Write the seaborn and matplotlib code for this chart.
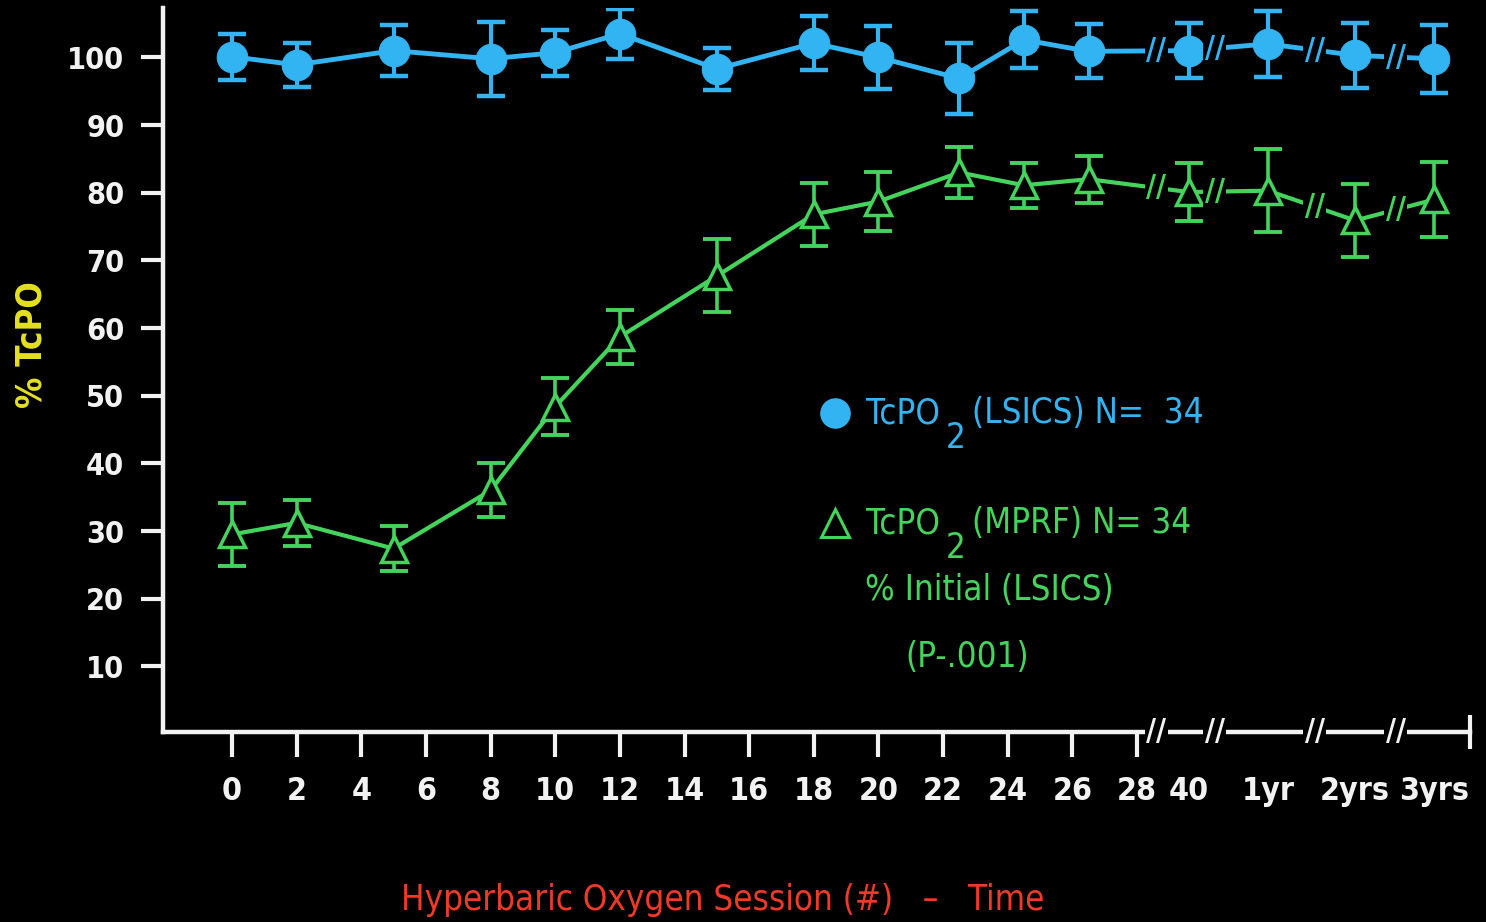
import numpy as np
import pandas as pd
import seaborn as sns
import matplotlib.pyplot as plt

# x positions of the sessions, the axis is broken after session 28
session_x = [0, 2, 5, 8, 10, 12, 15, 18, 20, 22.5, 24.5, 26.5]
late_x = [29.6, 32.05, 34.75, 37.2]
late_labels = ["40", "1yr", "2yrs", "3yrs"]
session_ticks = list(range(0, 30, 2))
break_x = [28.6, 30.4, 33.5, 36.0]

# TcPO2 (LSICS), % of initial
lsics_mean = [100.1, 98.9, 101.0, 99.8, 100.7, 103.5, 98.3, 102.1,
              100.0, 96.9, 102.6, 100.9, 101.0, 102.0, 100.3, 99.8]
lsics_err = [3.4, 3.2, 3.8, 5.5, 3.4, 3.7, 3.1, 4.0,
             4.7, 5.2, 4.2, 4.0, 4.1, 4.9, 4.8, 5.0]

# TcPO2 (MPRF), % of initial LSICS
mprf_mean = [29.5, 31.2, 27.4, 36.0, 48.4, 58.7, 67.7, 76.8,
             78.7, 83.0, 81.1, 82.0, 80.1, 80.3, 75.9, 79.0]
mprf_err = [4.6, 3.4, 3.3, 4.0, 4.2, 4.0, 5.4, 4.7,
            4.4, 3.8, 3.3, 3.5, 4.3, 6.1, 5.4, 5.6]

BLUE = "#33b4f2"
GREEN = "#44d45c"
WHITE = "#f2f2f2"

df = pd.DataFrame({
    "x": session_x + late_x,
    "lsics": lsics_mean,
    "lsics_err": lsics_err,
    "mprf": mprf_mean,
    "mprf_err": mprf_err,
})

sns.set_style("dark", {"axes.facecolor": "black", "figure.facecolor": "black",
                       "axes.edgecolor": WHITE, "axes.grid": False,
                       "xtick.bottom": True, "ytick.left": True})
plt.rcParams["font.family"] = ["DejaVu Sans"]
plt.rcParams["font.stretch"] = "condensed"


def px(x, y):
    # pixel position in the 1486x922 picture -> figure fraction
    return x / 1486, 1 - y / 922


fig = plt.figure(figsize=(14.86, 9.22), dpi=100)
ax = fig.add_axes([0.1097, 0.2061, 0.8795, 0.7852])

# error bars under the markers
ax.errorbar(df.x, df.lsics, yerr=df.lsics_err, fmt="none", ecolor=BLUE,
            elinewidth=3, capsize=10, capthick=3.2, zorder=3)
ax.errorbar(df.x, df.mprf, yerr=df.mprf_err, fmt="none", ecolor=GREEN,
            elinewidth=2.6, capsize=10, capthick=2.8, zorder=3)

sns.lineplot(data=df, x="x", y="lsics", ax=ax, color=BLUE, lw=3.5,
             marker="o", ms=22, mec=BLUE, mfc=BLUE, zorder=4)
sns.lineplot(data=df, x="x", y="mprf", ax=ax, color=GREEN, lw=3,
             marker="^", ms=19, mec=GREEN, mfc="black", mew=2.5, zorder=4)

# "//" breaks on the lines and on the axis
box = dict(boxstyle="square,pad=0.05", fc="black", ec="none")
for bx in break_x:
    for col, c in (("lsics", BLUE), ("mprf", GREEN)):
        by = np.interp(bx, df.x, df[col])
        ax.text(bx, by, "//", color=c, ha="center", va="center",
                fontsize=22, fontweight="bold", bbox=box, zorder=5)
    ax.text(bx, 0, "//", color=WHITE, ha="center", va="center",
            fontsize=22, fontweight="bold", bbox=box,
            transform=ax.get_xaxis_transform(), clip_on=False, zorder=6)

ax.set_xlim(-2.135, 38.3)
ax.set_ylim(0.3, 107.3)
ax.plot([ax.get_xlim()[1]], [0], marker="|", ms=24, mew=3, color=WHITE,
        transform=ax.get_xaxis_transform(), clip_on=False)

ax.set_xticks(session_ticks)
ax.set_xticks(late_x, late_labels, minor=True)
ax.set_yticks(range(10, 101, 10))
ax.tick_params(axis="x", which="major", bottom=True, length=18, width=3,
               pad=14, labelsize=23, colors=WHITE)
ax.tick_params(axis="x", which="minor", bottom=True, length=18, width=0,
               pad=14, labelsize=23, colors=WHITE)
ax.tick_params(axis="y", left=True, length=16, width=3, pad=12,
               labelsize=22, colors=WHITE)
for lab in ax.get_xticklabels(which="both") + ax.get_yticklabels():
    lab.set_fontweight("bold")

sns.despine(ax=ax)
for side in ("left", "bottom"):
    ax.spines[side].set_linewidth(3.2)
    ax.spines[side].set_color(WHITE)

ax.set_ylabel("% TcPO", color="#e6e020", fontsize=25, fontweight="bold")
ax.yaxis.set_label_coords(-0.0880, 0.535)
ax.set_xlabel("Hyperbaric Oxygen Session (#)   \u2013   Time", color="#f03a28",
              fontsize=25)
ax.xaxis.set_label_coords(0.428, -0.208)

# hand-made legend
fig.add_artist(plt.Line2D([px(835, 413)[0]], [px(835, 413)[1]], marker="o",
                          ms=21, color=BLUE, transform=fig.transFigure))
fig.add_artist(plt.Line2D([px(835, 523)[0]], [px(835, 523)[1]], marker="^",
                          ms=20, mfc="none", mec=GREEN, mew=2.2,
                          transform=fig.transFigure))

for y, c, tail in ((413, BLUE, "(LSICS) N=  34"), (523, GREEN, "(MPRF) N= 34")):
    t1 = fig.text(*px(866, y), "TcPO", color=c, fontsize=25, ha="left",
                  va="center")
    t2 = ax.annotate("2", xy=(1, 0.5), xycoords=t1, xytext=(4, -18),
                     textcoords="offset points", color=c, fontsize=25,
                     ha="left", va="center")
    ax.annotate(tail, xy=(1, 0.5), xycoords=t2, xytext=(5, 18),
                textcoords="offset points", color=c, fontsize=25,
                ha="left", va="center")

fig.text(*px(865, 590), "% Initial (LSICS)", color=GREEN, fontsize=25,
         ha="left", va="center")
fig.text(*px(905, 657), "(P-.001)", color=GREEN, fontsize=25,
         ha="left", va="center")

fig.savefig("out.png", dpi=100, facecolor="black")
